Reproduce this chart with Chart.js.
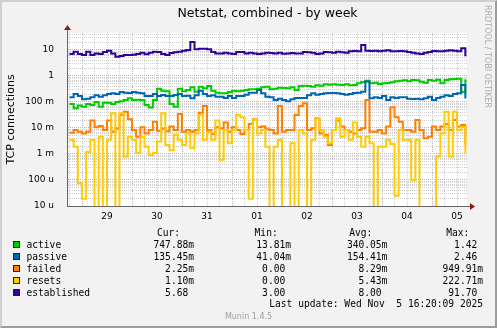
<!DOCTYPE html>
<html lang="en">
<head>
<meta charset="UTF-8">
<title>Netstat, combined - by week</title>
<script src="https://cdn.jsdelivr.net/npm/chart.js"></script>
<style>
    body { margin: 0; padding: 0; background: #f0f0f0; }
    #wrap { position: relative; width: 497px; height: 328px; background: #f2f2f2; overflow: hidden; }
    #wrap canvas { position: absolute; left: 0; top: 0; }
    #frame {
        position: absolute; left: 0; top: 0; width: 497px; height: 328px; box-sizing: border-box;
        border: 2px solid; border-color: #cfcfcf #9c9c9c #9c9c9c #cfcfcf; pointer-events: none;
    }
    .txt { position: absolute; white-space: pre; line-height: 12px; color: #000; }
    .mono { font-family: 'DejaVu Sans Mono', monospace; font-size: 9.6px; }
    #title { left: 38px; width: 459px; top: 5px; text-align: center; font: 12.5px 'DejaVu Sans', sans-serif; line-height: 16px; }
    #rrd {
        position: absolute; left: 483px; top: 5px; writing-mode: vertical-rl; line-height: 10px;
        font: 8px 'DejaVu Sans', sans-serif; color: #ababab; white-space: nowrap;
    }
    #munin { left: 0; width: 497px; text-align: center; font: 8px 'DejaVu Sans', sans-serif; color: #a0a0a0; }
    .swatch { position: absolute; width: 5px; height: 5px; border: 1px solid #222; }
</style>
</head>
<body>
<div id="wrap">
    <canvas id="netstat" width="497" height="328"></canvas>
    <div id="title" class="txt">Netstat, combined - by week</div>
    <div id="rrd">RRDTOOL / TOBI OETIKER</div>
    <div id="legend"></div>
    <div id="frame"></div>
</div>
<script>
// hours since Oct 28 00:00, one sample every 2 hours
const hours = [18, 20, 22, 24, 26, 28, 30, 32, 34, 36, 38, 40, 42, 44, 46, 48, 50, 52, 54, 56, 58, 60, 62, 64,
    66, 68, 70, 72, 74, 76, 78, 80, 82, 84, 86, 88, 90, 92, 94, 96, 98, 100, 102, 104, 106, 108, 110, 112,
    114, 116, 118, 120, 122, 124, 126, 128, 130, 132, 134, 136, 138, 140, 142, 144, 146, 148, 150, 152, 154, 156, 158, 160,
    162, 164, 166, 168, 170, 172, 174, 176, 178, 180, 182, 184, 186, 188, 190, 192, 194, 196, 198, 200, 202, 204, 206, 208];

const active = [0.084, 0.057, 0.074, 0.066, 0.084, 0.077, 0.1, 0.066, 0.094, 0.094, 0.084, 0.1, 0.106, 0.12, 0.138, 0.12, 0.123, 0.12, 0.077, 0.062, 0.12, 0.326, 0.273, 0.257,
    0.084, 0.066, 0.326, 0.257, 0.29, 0.367, 0.25, 0.389, 0.335, 0.413, 0.273, 0.229, 0.215, 0.215, 0.242, 0.273, 0.257, 0.273, 0.29, 0.307, 0.307, 0.326, 0.367, 0.389,
    0.307, 0.326, 0.356, 0.346, 0.335, 0.367, 0.29, 0.413, 0.425, 0.413, 0.389, 0.438, 0.425, 0.478, 0.464, 0.478, 0.464, 0.451, 0.478, 0.438, 0.451, 0.522, 0.588, 0.662,
    0.522, 0.554, 0.493, 0.522, 0.538, 0.571, 0.623, 0.662, 0.681, 0.623, 0.701, 0.681, 0.605, 0.554, 0.701, 0.662, 0.722, 0.522, 0.701, 0.745, 0.767, 0.79, 0.24, 0.748];

const passive = [0.151, 0.203, 0.17, 0.127, 0.134, 0.151, 0.18, 0.16, 0.18, 0.203, 0.215, 0.203, 0.242, 0.229, 0.222, 0.242, 0.229, 0.215, 0.17, 0.17, 0.203, 0.17, 0.186, 0.17,
    0.17, 0.186, 0.203, 0.17, 0.175, 0.138, 0.18, 0.273, 0.203, 0.17, 0.18, 0.16, 0.16, 0.142, 0.17, 0.142, 0.17, 0.17, 0.191, 0.229, 0.229, 0.29, 0.215, 0.16,
    0.151, 0.12, 0.134, 0.12, 0.106, 0.127, 0.142, 0.142, 0.142, 0.18, 0.215, 0.191, 0.203, 0.215, 0.222, 0.222, 0.215, 0.203, 0.191, 0.203, 0.222, 0.229, 0.25, 0.62,
    0.138, 0.151, 0.142, 0.17, 0.12, 0.151, 0.142, 0.151, 0.151, 0.134, 0.13, 0.134, 0.127, 0.138, 0.16, 0.12, 0.142, 0.16, 0.18, 0.17, 0.203, 0.215, 0.45, 0.1355];

const failed = [0.0066, 0.0084, 0.0072, 0.0062, 0.0072, 0.0193, 0.0106, 0.012, 0.0084, 0.0193, 0.0072, 0.0095, 0.0316, 0.0424, 0.0216, 0.0084, 0.0046, 0.0106, 0.0062, 0.0084, 0.0175, 0.0079, 0.0095, 0.0075,
    0.0113, 0.0084, 0.0346, 0.0072, 0.0084, 0.0072, 0.0084, 0.0389, 0.0703, 0.0084, 0.0059, 0.0106, 0.0098, 0.0161, 0.0072, 0.0106, 0.0084, 0.0059, 0.0084, 0.0143, 0.0216, 0.0106, 0.0113, 0.0089,
    0.0084, 0.0062, 0.0703, 0.0072, 0.0084, 0.0084, 0.0316, 0.0703, 0.089, 0.0084, 0.0098, 0.0236, 0.0062, 0.0054, 0.0022, 0.0084, 0.0193, 0.0113, 0.0084, 0.0072, 0.0062, 0.0084, 0.0098, 0.12,
    0.0072, 0.0072, 0.0084, 0.0062, 0.0113, 0.0622, 0.0257, 0.0175, 0.0084, 0.0084, 0.0072, 0.0204, 0.0084, 0.004, 0.0046, 0.0113, 0.0084, 0.0113, 0.0143, 0.0084, 0.0204, 0.0113, 0.013, 0.00225];

const resets = [0.0035, 0.0019, 0.000075, 0.000019, 0.0012, 0.0035, 0, 0.0046, 0, 0.0035, 0.037, 0, 0.037, 0.0008, 0.0046, 0.0035, 0.0011, 0.0046, 0.0019, 0.0009, 0.0011, 0.003, 0.037, 0.0022,
    0.0014, 0.0054, 0.0035, 0.0022, 0.0062, 0.0017, 0.0062, 0.0316, 0.0035, 0.0072, 0.0035, 0.0193, 0.0006, 0.0084, 0.0026, 0.0084, 0.0316, 0.0257, 0.0084, 0.000019, 0.0216, 0.0062, 0.0084, 0.0019,
    0, 0.0019, 0.0035, 0, 0, 0.0026, 0, 0.0084, 0.0062, 0, 0.0035, 0.0236, 0.0084, 0.0046, 0.0026, 0.0084, 0.0236, 0.0046, 0.0084, 0.0035, 0.0161, 0.0046, 0.0019, 0.0046,
    0.0026, 0, 0.0019, 0.0019, 0.0035, 0.0024, 0.000025, 0.0084, 0.0035, 0.0035, 0.0001, 0.0035, 0, 0, 0, 0, 0.0008, 0.0062, 0.042, 0.0008, 0.042, 0.0084, 0.011, 0.0011];

const established = [7.0, 8.6, 7.0, 6.4, 8.6, 6.4, 7.4, 7.0, 8.4, 9.4, 7.4, 5.5, 5.9, 6.4, 6.4, 6.6, 7.0, 7.9, 6.8, 7.9, 8.6, 8.4, 7.0, 6.4,
    7.6, 8.1, 8.6, 9.4, 10, 20.3, 10.6, 11.2, 11.2, 10.6, 8.4, 7.4, 7.4, 7.9, 7.4, 7.0, 8.4, 8.4, 7.4, 7.9, 7.4, 7.0, 7.4, 7.9,
    7.6, 7.4, 7.9, 7.2, 7.4, 7.6, 7.4, 7.4, 8.4, 8.1, 7.9, 7.0, 7.4, 8.4, 8.1, 7.9, 8.6, 8.1, 7.9, 8.9, 9.1, 8.9, 15.6, 9.4,
    9.1, 9.4, 8.9, 9.4, 9.7, 8.9, 8.9, 9.1, 8.9, 8.4, 7.9, 7.4, 7.0, 7.9, 8.4, 9.1, 8.9, 8.9, 9.4, 9.7, 9.4, 8.9, 11.6, 5.68];

// x axis: day labels sit at noon, red lines at midnight
const dayNoons = [36, 60, 84, 108, 132, 156, 180, 204];
const dayLabels = ['29', '30', '31', '01', '02', '03', '04', '05'];

// y axis decades and their labels
const yDecades = [0.00001, 0.0001, 0.001, 0.01, 0.1, 1, 10];
const yLabels = ['10 u', '100 u', '1 m', '10 m', '100 m', '1', '10'];

// legend
const seriesNames = ['active', 'passive', 'failed', 'resets', 'established'];
const seriesColors = ['#00cc00', '#0066b3', '#ff8000', '#ffcc00', '#330099'];
const curVals = ['747.88m', '135.45m', '2.25m', '1.10m', '5.68 '];
const minVals = ['13.81m', '41.04m', '0.00 ', '0.00 ', '3.00 '];
const avgVals = ['340.05m', '154.41m', '8.29m', '5.43m', '8.00 '];
const maxVals = ['1.42 ', '2.46 ', '949.91m', '222.71m', '91.70 '];
const lastUpdate = 'Last update: Wed Nov  5 16:20:09 2025';

const X_MIN = 16.8, X_MAX = 208.8, Y_MIN = 0.00001, Y_MAX = 45;

function isDecade(v) {
    const l = Math.log10(v);
    return Math.abs(l - Math.round(l)) < 1e-6;
}

const plotBackground = {
    id: 'plotBackground',
    beforeDraw(chart) {
        const {ctx, chartArea: a} = chart;
        ctx.save();
        ctx.fillStyle = '#ffffff';
        ctx.fillRect(a.left, a.top, a.right - a.left, a.bottom - a.top);
        ctx.restore();
    }
};

// the little red arrows at the ends of the axes
const axisArrows = {
    id: 'axisArrows',
    afterDraw(chart) {
        const {ctx, chartArea: a} = chart;
        const x0 = a.left + 0.5, y0 = a.bottom + 0.5;
        ctx.save();
        ctx.strokeStyle = '#666666';
        ctx.lineWidth = 1;
        ctx.beginPath();
        ctx.moveTo(x0, a.top);
        ctx.lineTo(x0, a.top - 5);
        ctx.moveTo(a.right, y0);
        ctx.lineTo(a.right + 4, y0);
        ctx.stroke();
        ctx.fillStyle = '#8b1a1a';
        ctx.beginPath();
        ctx.moveTo(x0, a.top - 8);
        ctx.lineTo(x0 - 3.5, a.top - 3);
        ctx.lineTo(x0 + 3.5, a.top - 3);
        ctx.closePath();
        ctx.fill();
        ctx.beginPath();
        ctx.moveTo(a.right + 8, y0);
        ctx.lineTo(a.right + 3, y0 - 3.5);
        ctx.lineTo(a.right + 3, y0 + 3.5);
        ctx.closePath();
        ctx.fill();
        ctx.restore();
    }
};

// a zero cannot sit on a log axis: draw it just below the bottom edge, where it is clipped
function series(label, values, color, order) {
    return {
        label: label,
        data: hours.map((h, i) => ({x: h, y: values[i] > 0 ? values[i] : Y_MIN / 10})),
        borderColor: color,
        backgroundColor: color,
        borderWidth: 2,
        pointRadius: 0,
        stepped: true,
        fill: false,
        order: order
    };
}

Chart.defaults.font.family = "'DejaVu Sans', sans-serif";

new Chart(document.getElementById('netstat'), {
    type: 'line',
    data: {
        datasets: [
            series('active', active, seriesColors[0], 5),
            series('passive', passive, seriesColors[1], 4),
            series('failed', failed, seriesColors[2], 3),
            series('resets', resets, seriesColors[3], 2),
            series('established', established, seriesColors[4], 1)
        ]
    },
    options: {
        responsive: false,
        animation: false,
        devicePixelRatio: 1,
        layout: { padding: { top: 33, right: 30, bottom: 100, left: 0 } },
        plugins: { legend: { display: false }, tooltip: { enabled: false } },
        scales: {
            x: {
                type: 'linear',
                min: X_MIN,
                max: X_MAX,
                afterBuildTicks(scale) {
                    const t = [];
                    for (let h = 18; h <= 204; h += 6) t.push({value: h});
                    scale.ticks = t;
                },
                afterFit(scale) { scale.height = 22; },
                ticks: {
                    autoSkip: false,
                    maxRotation: 0,
                    padding: 5,
                    color: '#000',
                    font: { size: 9 },
                    callback: v => {
                        const k = dayNoons.indexOf(v);
                        return k >= 0 ? dayLabels[k] : '';
                    }
                },
                grid: {
                    drawTicks: false,
                    color: ctx => (ctx.tick && ctx.tick.value % 24 === 0) ? '#e6a3a3' : '#cfcfcf'
                },
                border: { color: '#666666', dash: [1, 1] }
            },
            y: {
                type: 'logarithmic',
                min: Y_MIN,
                max: Y_MAX,
                afterBuildTicks(scale) {
                    const t = [];
                    yDecades.forEach(d => {
                        for (let k = 1; k <= 9; k++) {
                            if (d * k <= Y_MAX) t.push({value: d * k});
                        }
                    });
                    scale.ticks = t;
                },
                afterFit(scale) { scale.width = 67; },
                ticks: {
                    autoSkip: false,
                    padding: 13,
                    color: '#000',
                    font: { size: 9 },
                    callback: v => {
                        const k = yDecades.findIndex(d => Math.abs(d - v) / d < 1e-6);
                        return k >= 0 ? yLabels[k] : '';
                    }
                },
                grid: {
                    drawTicks: false,
                    color: ctx => (ctx.tick && isDecade(ctx.tick.value)) ? '#e6a3a3' : '#cfcfcf'
                },
                border: { color: '#666666', dash: [1, 1] },
                title: {
                    display: true,
                    text: 'TCP connections',
                    color: '#000',
                    font: { size: 11 },
                    padding: { top: 5, bottom: 0 }
                }
            }
        }
    },
    plugins: [plotBackground, axisArrows]
});

// legend block under the graph
const legend = document.getElementById('legend');
function addText(text, cls, style) {
    const d = document.createElement('div');
    d.className = 'txt ' + cls;
    d.textContent = text;
    Object.assign(d.style, style);
    legend.appendChild(d);
    return d;
}
const rowY = [244.7, 256.7, 268.7, 280.7, 292.7];
const cols = [
    {head: 'Cur:', headRight: 180, right: 194, vals: curVals},
    {head: 'Min:', headRight: 277.7, right: 291, vals: minVals},
    {head: 'Avg:', headRight: 372.3, right: 387.3, vals: avgVals},
    {head: 'Max:', headRight: 469.3, right: 483, vals: maxVals}
];
cols.forEach(c => {
    addText(c.head, 'mono', {right: (497 - c.headRight) + 'px', top: (233 - 6) + 'px'});
    c.vals.forEach((v, i) => addText(v, 'mono', {right: (497 - c.right) + 'px', top: (rowY[i] - 6) + 'px'}));
});
seriesNames.forEach((n, i) => {
    const sw = document.createElement('div');
    sw.className = 'swatch';
    sw.style.left = '13px';
    sw.style.top = (rowY[i] - 3.5) + 'px';
    sw.style.background = seriesColors[i];
    legend.appendChild(sw);
    addText(n, 'mono', {left: '26.5px', top: (rowY[i] - 6) + 'px'});
});
addText(lastUpdate, 'mono', {right: (497 - 483) + 'px', top: (304.3 - 6) + 'px'});
addText('Munin 1.4.5', '', {top: (317.7 - 6) + 'px'}).id = 'munin';
</script>
</body>
</html>
